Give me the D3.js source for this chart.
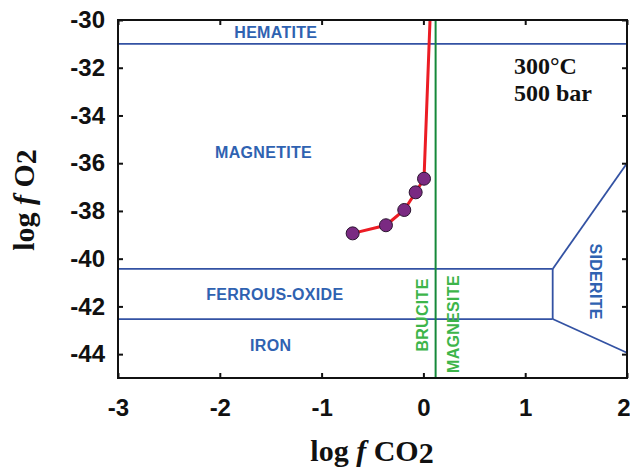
<!DOCTYPE html>
<html>
<head>
<meta charset="utf-8">
<script src="https://cdn.jsdelivr.net/npm/d3@7"></script>
<style>
  body { margin: 0; background: #fff; }
  .tick-label { font-family: "Liberation Sans", Arial, sans-serif; font-weight: bold; font-size: 24px; fill: #111; }
  .field { font-family: "Liberation Sans", Arial, sans-serif; font-weight: bold; font-size: 16px; letter-spacing: 0.3px; }
  .serif { font-family: "Liberation Serif", "Times New Roman", serif; font-weight: bold; fill: #111; }
</style>
</head>
<body>
<div id="chart"></div>
<script>
// axis ticks
var xTicks = [-3, -2, -1, 0, 1, 2];
var yTicks = [-30, -32, -34, -36, -38, -40, -42, -44];

// phase boundaries (log fCO2, log fO2)
var hematiteLine = [[-3, -31], [2, -31]];
var ferrousTop = [[-3, -40.43], [1.27, -40.43]];
var ironTop = [[-3, -42.53], [1.27, -42.53]];
var sideriteStep = [[1.27, -40.43], [1.27, -42.53]];
var sideriteUpper = [[1.27, -40.43], [2, -36.0]];
var sideriteLower = [[1.27, -42.53], [2, -43.94]];
var bruciteLine = [[0.12, -30], [0.12, -45]];

// reaction path
var pathPoints = [[-0.695, -38.94], [-0.368, -38.60], [-0.188, -37.96], [-0.076, -37.22], [0.006, -36.65]];
var pathTop = [0.065, -30];

// field labels: text, x, y, rotation, colour
var fieldLabels = [
  { text: "HEMATITE", x: -1.45, y: -30.75, rot: 0, c: "blue" },
  { text: "MAGNETITE", x: -1.57, y: -35.8, rot: 0, c: "blue" },
  { text: "FERROUS-OXIDE", x: -1.46, y: -41.73, rot: 0, c: "blue" },
  { text: "IRON", x: -1.5, y: -43.87, rot: 0, c: "blue" },
  { text: "BRUCITE", x: 0.045, y: -42.36, rot: -90, c: "green" },
  { text: "MAGNESITE", x: 0.35, y: -42.74, rot: -90, c: "green" },
  { text: "SIDERITE", x: 1.636, y: -40.96, rot: 90, c: "blue" }
];

var margin = { top: 20, right: 3, bottom: 92, left: 118 };
var W = 630, H = 470;
var width = W - margin.left - margin.right;
var height = H - margin.top - margin.bottom;

var blueLine = "#3352a3", blueText = "#2f62b1";
var greenLine = "#15893a", greenText = "#3db54a";

var x = d3.scaleLinear().domain([-3, 2]).range([0, width]);
var y = d3.scaleLinear().domain([-45, -30]).range([height, 0]);

var svg = d3.select("#chart").append("svg").attr("width", W).attr("height", H);
var g = svg.append("g").attr("transform", "translate(" + margin.left + "," + margin.top + ")");

var line = d3.line().x(function(d) { return x(d[0]); }).y(function(d) { return y(d[1]); });

// boundaries
[hematiteLine, ferrousTop, ironTop, sideriteStep, sideriteUpper, sideriteLower].forEach(function(seg) {
  g.append("path").datum(seg).attr("d", line)
    .attr("fill", "none").attr("stroke", blueLine).attr("stroke-width", 1.8);
});
g.append("path").datum(bruciteLine).attr("d", line)
  .attr("fill", "none").attr("stroke", greenLine).attr("stroke-width", 2);

// reaction path
g.append("path").datum(pathPoints.concat([pathTop])).attr("d", line)
  .attr("fill", "none").attr("stroke", "#ec1c24").attr("stroke-width", 3);
g.selectAll("circle.pt").data(pathPoints).enter().append("circle")
  .attr("class", "pt")
  .attr("cx", function(d) { return x(d[0]); })
  .attr("cy", function(d) { return y(d[1]); })
  .attr("r", 6.5)
  .attr("fill", "#7a2a82").attr("stroke", "#2b1530").attr("stroke-width", 1);

// labels
fieldLabels.forEach(function(l) {
  var px = x(l.x), py = y(l.y);
  g.append("text").attr("class", "field")
    .attr("text-anchor", "middle")
    .attr("fill", l.c === "blue" ? blueText : greenText)
    .attr("transform", "translate(" + px + "," + py + ") rotate(" + l.rot + ")")
    .text(l.text);
});

// frame with inward ticks on all sides
g.append("rect").attr("width", width).attr("height", height)
  .attr("fill", "none").attr("stroke", "#111").attr("stroke-width", 2);

var fmt = function(d) { return String(d); };
var axisB = d3.axisBottom(x).tickValues(xTicks).tickSizeInner(-5).tickSizeOuter(0).tickPadding(21).tickFormat(fmt);
var axisT = d3.axisTop(x).tickValues(xTicks).tickSizeInner(-5).tickSizeOuter(0).tickFormat("");
var axisL = d3.axisLeft(y).tickValues(yTicks).tickSizeInner(-5).tickSizeOuter(0).tickPadding(13).tickFormat(fmt);
var axisR = d3.axisRight(y).tickValues(yTicks).tickSizeInner(-5).tickSizeOuter(0).tickFormat("");

function styleAxis(sel) {
  sel.select(".domain").remove();
  sel.selectAll(".tick line").attr("stroke", "#111").attr("stroke-width", 2);
  sel.selectAll(".tick text").attr("class", "tick-label").attr("fill", "#111");
}
var gx = g.append("g").attr("transform", "translate(0," + height + ")").call(axisB).call(styleAxis);
gx.selectAll(".tick text").filter(function(d) { return d === 2; })
  .attr("text-anchor", "end").attr("dx", 3);
g.append("g").call(axisT).call(styleAxis);
g.append("g").call(axisL).call(styleAxis);
g.append("g").attr("transform", "translate(" + width + ",0)").call(axisR).call(styleAxis);

// conditions
var cond = svg.append("text").attr("class", "serif").attr("font-size", 24);
cond.append("tspan").attr("x", 514).attr("y", 74).text("300°C");
cond.append("tspan").attr("x", 514).attr("y", 101).text("500 bar");

// axis titles
function title(sel, gas) {
  sel.append("tspan").text("log ");
  sel.append("tspan").attr("font-style", "italic").text("f");
  sel.append("tspan").text(" " + gas);
  sel.append("tspan").attr("dy", 2).text("2");
}
var xt = svg.append("text").attr("class", "serif").attr("font-size", 30)
  .attr("text-anchor", "middle").attr("x", 372).attr("y", 461);
title(xt, "CO");
var yt = svg.append("text").attr("class", "serif").attr("font-size", 30)
  .attr("text-anchor", "middle")
  .attr("transform", "translate(34,200) rotate(-90)");
title(yt, "O");
</script>
</body>
</html>
